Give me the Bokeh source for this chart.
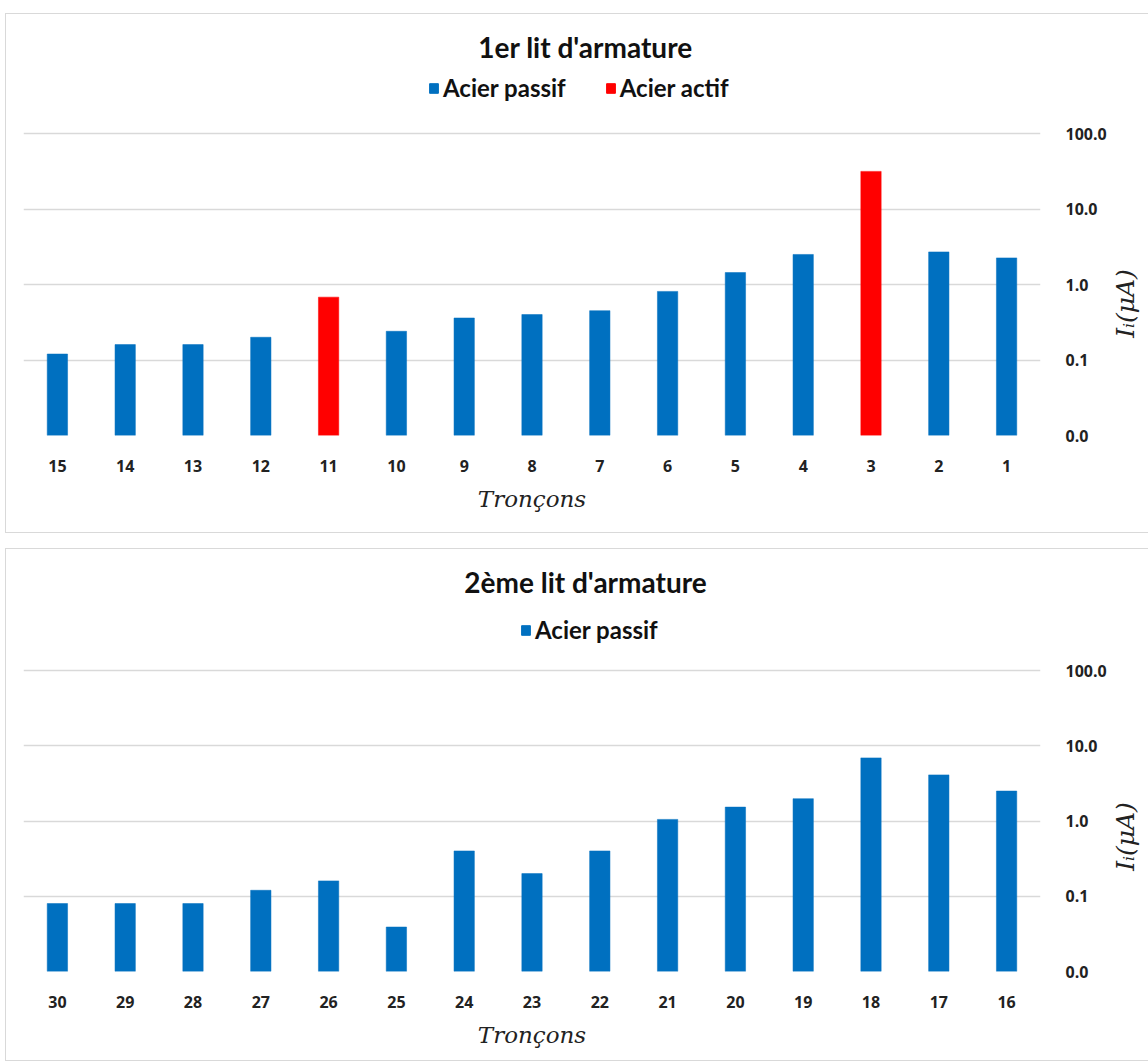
import math
from bokeh.plotting import figure
from bokeh.models import (ColumnDataSource, Label, FixedTicker, PrintfTickFormatter,
                          Spacer, Range1d, FactorRange)
from bokeh.layouts import column, row
from bokeh.embed import file_html
from bokeh.resources import INLINE

# ---- data ----
segments_1 = ["15", "14", "13", "12", "11", "10", "9", "8", "7", "6", "5", "4", "3", "2", "1"]
current_1 = [0.12, 0.16, 0.16, 0.20, 0.68, 0.24, 0.36, 0.40, 0.45, 0.81, 1.44, 2.5, 31.5, 2.7, 2.25]
steel_1 = ["Acier passif", "Acier passif", "Acier passif", "Acier passif", "Acier actif",
           "Acier passif", "Acier passif", "Acier passif", "Acier passif", "Acier passif",
           "Acier passif", "Acier passif", "Acier actif", "Acier passif", "Acier passif"]

segments_2 = ["30", "29", "28", "27", "26", "25", "24", "23", "22", "21", "20", "19", "18", "17", "16"]
current_2 = [0.08, 0.08, 0.08, 0.12, 0.16, 0.039, 0.40, 0.20, 0.40, 1.05, 1.53, 1.98, 6.9, 4.1, 2.5]
steel_2 = ["Acier passif"] * 15

y_ticks = [0.01, 0.1, 1, 10, 100]
titles = ["1er lit d'armature", "2ème lit d'armature"]
x_title = "Tronçons"
y_title = "Iᵢ(μA)"
colors = {"Acier passif": "#0070C0", "Acier actif": "#FF0000"}

W_FULL = 1143
W_LAB = 40
W_MAIN = W_FULL - W_LAB
FRAME_L = 17
FRAME_W = 1018
BORDER = "1px solid #D9D9D9"
TXT = "#111111"


def make_header(title, kinds_present, height, title_y, legend_x, legend_cy):
    h = figure(x_range=Range1d(0, FRAME_W), y_range=Range1d(0, height),
               width=W_FULL, height=height, output_backend="svg", toolbar_location=None,
               x_axis_location=None, y_axis_location=None,
               min_border_left=FRAME_L, min_border_right=W_FULL - FRAME_L - FRAME_W,
               min_border_top=0, min_border_bottom=0, outline_line_color=None,
               styles={"border-top": BORDER, "border-left": BORDER, "box-sizing": "border-box"})
    h.grid.visible = False
    for kind in kinds_present:
        # legend proxy, kept outside the visible range
        h.vbar(x=[-1000], top=[1], bottom=0, width=1, fill_color=colors[kind],
               line_color=colors[kind], legend_label=kind)
    h.add_layout(Label(x=562, y=title_y, text=title, text_align="center",
                       text_baseline="middle", text_font="Lato", text_font_style="bold",
                       text_font_size="28px", text_color=TXT))
    lg = h.legend[0]
    lg.orientation = "horizontal"
    lg.border_line_color = None
    lg.background_fill_alpha = 0
    lg.padding = 0
    lg.margin = 0
    lg.spacing = 39
    lg.glyph_width = 11
    lg.glyph_height = 12
    lg.label_standoff = 4
    lg.label_height = 26
    lg.label_text_font = "Lato"
    lg.label_text_font_style = "bold"
    lg.label_text_font_size = "24px"
    lg.label_text_color = TXT
    lg.location = (legend_x, legend_cy - 13)
    return h


def make_panel(segs, vals, kinds, height, bottom, plot_h):
    frame_h = height - bottom
    decade = plot_h / 4.0
    y_top = 10 ** (-2 + frame_h / decade)
    p = figure(x_range=FactorRange(*segs), y_range=Range1d(0.01, y_top), y_axis_type="log",
               width=W_MAIN, height=height, output_backend="svg", toolbar_location=None,
               min_border_left=FRAME_L, min_border_right=W_MAIN - FRAME_L - FRAME_W,
               min_border_top=0, min_border_bottom=bottom,
               y_axis_location="right", outline_line_color=None,
               styles={"border-left": BORDER, "border-bottom": BORDER, "box-sizing": "border-box"})
    for kind in ["Acier passif", "Acier actif"]:
        xs = [s for s, k in zip(segs, kinds) if k == kind]
        ys = [v for v, k in zip(vals, kinds) if k == kind]
        if not xs:
            continue
        src = ColumnDataSource(dict(x=xs, top=ys))
        p.vbar(x="x", top="top", bottom=0.01, width=0.3, source=src,
               fill_color=colors[kind], line_color=colors[kind], line_alpha=0.5)

    p.xgrid.grid_line_color = None
    p.ygrid.grid_line_color = "#D9D9D9"
    p.ygrid.grid_line_width = 1.6
    p.ygrid.ticker = FixedTicker(ticks=y_ticks)

    ya = p.yaxis[0]
    ya.ticker = FixedTicker(ticks=y_ticks)
    ya.formatter = PrintfTickFormatter(format="%.1f")
    ya.axis_line_color = None
    ya.major_tick_line_color = None
    ya.minor_tick_line_color = None
    ya.major_label_standoff = 19
    ya.major_label_text_font = "Open Sans"
    ya.major_label_text_font_style = "bold"
    ya.major_label_text_font_size = "16px"
    ya.major_label_text_color = "#222222"

    xa = p.xaxis[0]
    xa.axis_line_color = None
    xa.major_tick_line_color = None
    xa.minor_tick_line_color = None
    xa.major_label_standoff = 18
    xa.major_label_text_font = "Open Sans"
    xa.major_label_text_font_style = "bold"
    xa.major_label_text_font_size = "16px"
    xa.major_label_text_color = "#222222"
    xa.axis_label = x_title
    xa.axis_label_text_font = "DejaVu Serif"
    xa.axis_label_text_font_style = "italic"
    xa.axis_label_text_font_size = "23px"
    xa.axis_label_text_color = "#222222"
    xa.axis_label_standoff = 11
    return p


def make_ylabel(height, bottom, label_y):
    frame_h = height - bottom
    q = figure(x_range=Range1d(0, W_LAB), y_range=Range1d(0, frame_h),
               width=W_LAB, height=height, output_backend="svg", toolbar_location=None,
               x_axis_location=None, y_axis_location=None,
               min_border_left=0, min_border_right=0, min_border_top=0,
               min_border_bottom=bottom, outline_line_color=None,
               styles={"border-bottom": BORDER, "box-sizing": "border-box"})
    q.grid.visible = False
    q.add_layout(Label(x=17, y=label_y, text=y_title, angle=math.pi / 2,
                       text_align="center", text_baseline="middle",
                       text_font="DejaVu Serif", text_font_style="italic",
                       text_font_size="25px", text_color="#222222"))
    return q


h1 = make_header(titles[0], ["Acier passif", "Acier actif"], 106, 74, 405, 31)
p1 = make_panel(segments_1, current_1, steel_1, 414, 98, 302)
y1 = make_ylabel(414, 98, 132)
h2 = make_header(titles[1], ["Acier passif"], 108, 76, 497, 26)
p2 = make_panel(segments_2, current_2, steel_2, 405, 90, 301)
y2 = make_ylabel(405, 90, 135)

layout = row(Spacer(width=5),
             column(Spacer(height=13), h1, row(p1, y1, spacing=0), Spacer(height=15),
                    h2, row(p2, y2, spacing=0), spacing=0),
             spacing=0)
open("out.html", "w").write(file_html(layout, INLINE))
